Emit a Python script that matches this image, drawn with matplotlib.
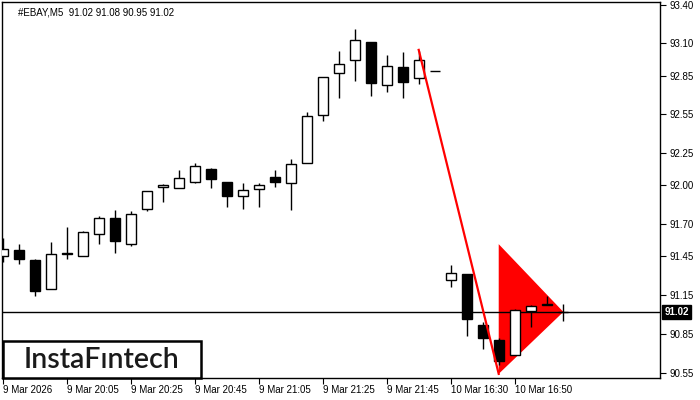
import matplotlib
matplotlib.use("Agg")
import matplotlib.pyplot as plt
from matplotlib.patches import Polygon, Rectangle

# candle data (5 min bars), index = bar number
opens = [91.45, 91.50, 91.42, 91.20, 91.475, 91.45, 91.62, 91.75, 91.55, 91.815,
         91.985, 91.98, 92.03, 92.13, 92.03, 91.92, 91.975, 92.065, 92.02, 92.17,
         92.545, 92.87, 92.975, 93.11, 92.775, 92.915, 92.83, 92.885, 91.27, 91.315,
         90.92, 90.80, 90.69, 91.03, 91.07, 91.02]
highs = [91.59, 91.55, 91.43, 91.56, 91.68, 91.645, 91.76, 91.81, 91.80, 91.955,
         92.01, 92.12, 92.17, 92.135, 92.03, 92.02, 92.02, 92.12, 92.205, 92.57,
         92.84, 93.04, 93.21, 93.11, 93.01, 93.03, 93.045, 92.885, 91.385, 91.315,
         90.94, 90.82, 91.045, 91.075, 91.145, 91.08]
lows = [91.41, 91.39, 91.14, 91.20, 91.43, 91.45, 91.55, 91.48, 91.53, 91.80,
        91.875, 91.98, 92.02, 91.98, 91.83, 91.815, 91.83, 91.985, 91.81, 92.17,
        92.50, 92.68, 92.81, 92.695, 92.725, 92.68, 92.785, 92.885, 91.21, 90.835,
        90.73, 90.61, 90.69, 90.90, 91.07, 90.95]
closes = [91.51, 91.43, 91.18, 91.47, 91.465, 91.64, 91.745, 91.57, 91.78, 91.955,
          92.00, 92.055, 92.15, 92.05, 91.915, 91.965, 92.00, 92.025, 92.165, 92.54,
          92.84, 92.94, 93.125, 92.795, 92.925, 92.805, 92.97, 92.885, 91.325, 90.965,
          90.815, 90.64, 91.035, 91.065, 91.085, 91.02]

title = "#EBAY,M5  91.02 91.08 90.95 91.02"
last_price = 91.02

xtick_idx = [0, 4, 8, 12, 16, 20, 24, 28, 32]
xtick_labels = ["9 Mar 2026", "9 Mar 20:05", "9 Mar 20:25", "9 Mar 20:45",
                "9 Mar 21:05", "9 Mar 21:25", "9 Mar 21:45", "10 Mar 16:30",
                "10 Mar 16:50"]
ytick_vals = [93.40, 93.10, 92.85, 92.55, 92.25, 92.00, 91.70, 91.45, 91.15,
              90.85, 90.55]

# flagpole and pennant
pole_x = [26, 31]
pole_y = [93.05, 90.54]
pennant_x = [31, 31, 35.04]
pennant_y = [91.545, 90.54, 91.02]

plt.rcParams['font.family'] = ['Liberation Sans', 'DejaVu Sans']

fig = plt.figure(figsize=(7, 4), dpi=100)
ax = fig.add_axes([2 / 700, 22 / 400, 658 / 700, 376 / 400])

n = len(opens)
xs = list(range(n))
w = 0.62
for i in xs:
    o, h, l, c = opens[i], highs[i], lows[i], closes[i]
    ax.vlines(i, l, h, color='black', lw=1, zorder=2)
    bottom = min(o, c)
    fc = 'black' if c < o else 'white'
    ax.add_patch(Rectangle((i - w / 2, bottom), w, abs(c - o), facecolor=fc,
                           edgecolor='black', lw=1, zorder=3))

ax.add_patch(Polygon(list(zip(pennant_x, pennant_y)), closed=True,
                     facecolor='#ff0000', edgecolor='none', zorder=1))
ax.plot(pole_x, pole_y, color='#ff0000', lw=1.6, zorder=4)

ax.axhline(last_price, color='black', lw=1, zorder=1.5)

ax.set_xlim(-0.044, 41.08)
ax.set_ylim(90.508, 93.421)

ax.set_xticks(xtick_idx)
ax.set_xticklabels(xtick_labels, ha='left', fontsize=7)
ax.tick_params(axis='x', direction='out', length=4, pad=1)

ax.yaxis.tick_right()
ax.set_yticks(ytick_vals)
ax.set_yticklabels(["%.2f" % v for v in ytick_vals], fontsize=7)
ax.tick_params(axis='y', direction='out', length=4, pad=3)

for s in ax.spines.values():
    s.set_linewidth(1)

ax.text(0.024, 0.985, title, transform=ax.transAxes, fontsize=7,
        va='top', ha='left')

# current price tag
ax.annotate("%.2f" % last_price, xy=(1, last_price),
            xycoords=('axes fraction', 'data'), xytext=(3, 0),
            textcoords='offset points', va='center', ha='left', fontsize=7,
            color='white', fontweight='bold',
            bbox=dict(boxstyle='square,pad=0.2', fc='black', ec='black'))

# logo box
fig.patches.append(Rectangle((2.7 / 700, 21.7 / 400), 198.3 / 700, 37.6 / 400,
                             transform=fig.transFigure, facecolor='white',
                             edgecolor='black', lw=1.8, zorder=10))
fig.text(101 / 700, 31.7 / 400, "InstaF\u0131ntech", ha='center',
         va='baseline', fontsize=20.5, family=['Lato', 'DejaVu Sans'],
         fontweight='semibold', color='#1a1a1a', zorder=11)

fig.savefig("out.png", dpi=100, facecolor='white')
